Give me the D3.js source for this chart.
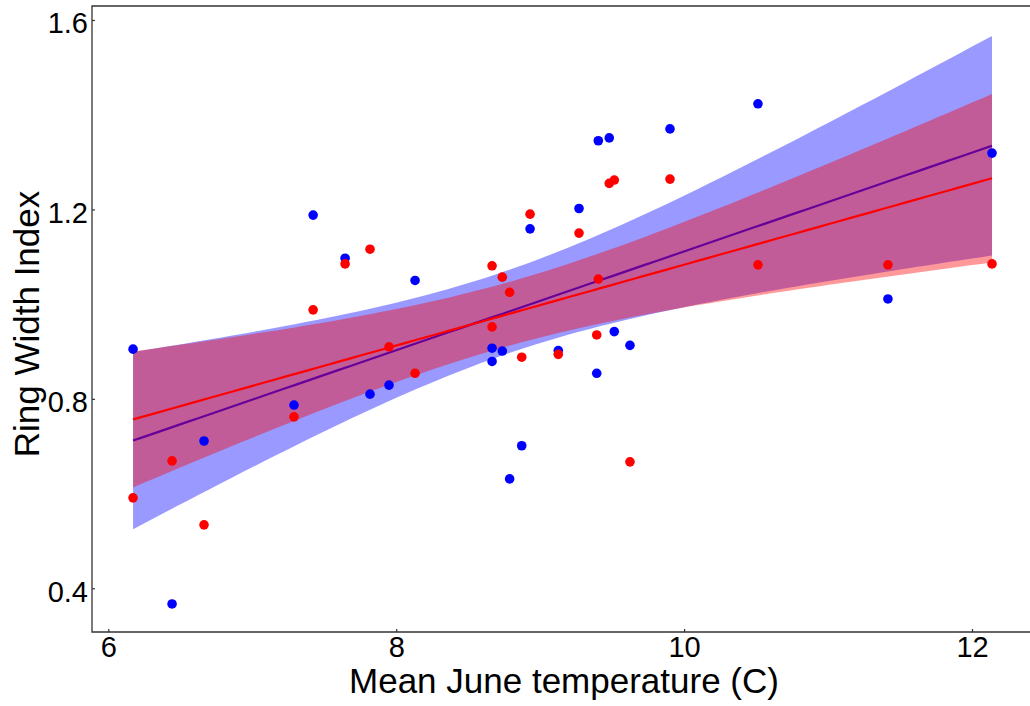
<!DOCTYPE html>
<html>
<head>
<meta charset="utf-8">
<script src="https://cdn.jsdelivr.net/npm/d3@7"></script>
<style>
  body { margin: 0; background: #fff; }
  svg { display: block; }
  text { font-family: "Liberation Sans", Arial, sans-serif; fill: #000; }
</style>
</head>
<body>
<svg id="chart" width="1030" height="706"></svg>
<script>
// Mean June temperature (C) for each year
const temperature = [6.172, 6.443, 6.665, 7.290, 7.423, 7.645, 7.818, 7.950, 8.131,
  8.666, 8.666, 8.737, 8.788, 8.872, 8.930, 9.126, 9.270, 9.393, 9.404, 9.480,
  9.515, 9.624, 9.902, 10.513, 11.416, 12.139];
// Ring width index, blue series
const widthBlue = [0.905, 0.367, 0.711, 0.787, 1.188, 1.097, 0.810, 0.829, 1.050,
  0.907, 0.879, 0.901, 0.631, 0.701, 1.159, 0.902, 1.202, 0.854, 1.345, 1.351,
  0.942, 0.913, 1.370, 1.423, 1.011, 1.319];
// Ring width index, red series
const widthRed = [0.591, 0.669, 0.534, 0.762, 0.988, 1.085, 1.116, 0.910, 0.854,
  1.081, 0.952, 1.057, 1.025, 0.888, 1.190, 0.894, 1.150, 0.935, 1.053, 1.255,
  1.262, 0.667, 1.264, 1.083, 1.083, 1.085];
const xTicks = [6, 8, 10, 12];
const yTicks = [0.4, 0.8, 1.2, 1.6];

const svg = d3.select("#chart");
const panel = { left: 92, top: 6, right: 1036, bottom: 632 };

const x = d3.scaleLinear().domain([6, 12]).range([108.3, 972]);
const y = d3.scaleLinear().domain([0.4, 1.6]).range([588.3, 20]);

svg.append("defs").append("clipPath").attr("id", "panel-clip")
  .append("rect")
  .attr("x", panel.left).attr("y", panel.top)
  .attr("width", panel.right - panel.left).attr("height", panel.bottom - panel.top);

// Ordinary least squares fit with a 95% confidence band
function linearFit(xs, ys) {
  const n = xs.length;
  const mx = d3.mean(xs), my = d3.mean(ys);
  let sxx = 0, sxy = 0;
  for (let i = 0; i < n; i++) {
    sxx += (xs[i] - mx) ** 2;
    sxy += (xs[i] - mx) * (ys[i] - my);
  }
  const slope = sxy / sxx;
  const intercept = my - slope * mx;
  let sse = 0;
  for (let i = 0; i < n; i++) sse += (ys[i] - (intercept + slope * xs[i])) ** 2;
  const s = Math.sqrt(sse / (n - 2));
  const tCrit = 2.0639; // t(0.975) with n - 2 = 24 degrees of freedom
  const [lo, hi] = d3.extent(xs);
  const pts = d3.range(80).map(i => {
    const xv = lo + (hi - lo) * i / 79;
    const fit = intercept + slope * xv;
    const se = s * Math.sqrt(1 / n + (xv - mx) ** 2 / sxx);
    return { x: xv, y: fit, lower: fit - tCrit * se, upper: fit + tCrit * se };
  });
  return pts;
}

const plot = svg.append("g").attr("clip-path", "url(#panel-clip)");

const band = d3.area().x(d => x(d.x)).y0(d => y(d.lower)).y1(d => y(d.upper));
const line = d3.line().x(d => x(d.x)).y(d => y(d.y));

const fitBlue = linearFit(temperature, widthBlue);
const fitRed = linearFit(temperature, widthRed);

plot.append("path").datum(fitBlue).attr("d", band)
  .attr("fill", "blue").attr("fill-opacity", 0.4);
plot.append("path").datum(fitBlue).attr("d", line)
  .attr("fill", "none").attr("stroke", "blue").attr("stroke-width", 2.2);
plot.append("path").datum(fitRed).attr("d", band)
  .attr("fill", "red").attr("fill-opacity", 0.4);
plot.append("path").datum(fitRed).attr("d", line)
  .attr("fill", "none").attr("stroke", "red").attr("stroke-width", 2.2);

plot.append("g").selectAll("circle").data(temperature).join("circle")
  .attr("cx", d => x(d)).attr("cy", (d, i) => y(widthBlue[i]))
  .attr("r", 4.8).attr("fill", "blue");
plot.append("g").selectAll("circle").data(temperature).join("circle")
  .attr("cx", d => x(d)).attr("cy", (d, i) => y(widthRed[i]))
  .attr("r", 4.8).attr("fill", "red");

// Axes with short inward ticks
const xAxis = svg.append("g").attr("transform", `translate(0,${panel.bottom})`)
  .call(d3.axisBottom(x).tickValues(xTicks).tickFormat(d3.format("d"))
    .tickSize(-3).tickPadding(4));
const yAxis = svg.append("g").attr("transform", `translate(${panel.left},0)`)
  .call(d3.axisLeft(y).tickValues(yTicks).tickFormat(d3.format(".1f"))
    .tickSize(-3).tickPadding(4));

[xAxis, yAxis].forEach(g => {
  g.select(".domain").remove();
  g.selectAll(".tick line").attr("stroke", "#333").attr("stroke-width", 1.2);
  g.selectAll(".tick text").attr("font-size", 29)
    .attr("font-family", "'Liberation Sans', Arial, sans-serif").attr("fill", "#000");
});
yAxis.selectAll(".tick text").attr("dy", "0.44em");

// Panel border (left, top, bottom)
svg.append("path")
  .attr("d", `M${panel.right},${panel.top}H${panel.left}V${panel.bottom}H${panel.right}`)
  .attr("fill", "none").attr("stroke", "#333").attr("stroke-width", 1.3);

// Axis titles
svg.append("text")
  .attr("x", (panel.left + panel.right) / 2).attr("y", 693)
  .attr("text-anchor", "middle").attr("font-size", 35)
  .text("Mean June temperature (C)");
svg.append("text")
  .attr("transform", `translate(39,${(panel.top + panel.bottom) / 2 + 5}) rotate(-90)`)
  .attr("text-anchor", "middle").attr("font-size", 35)
  .text("Ring Width Index");
</script>
</body>
</html>
